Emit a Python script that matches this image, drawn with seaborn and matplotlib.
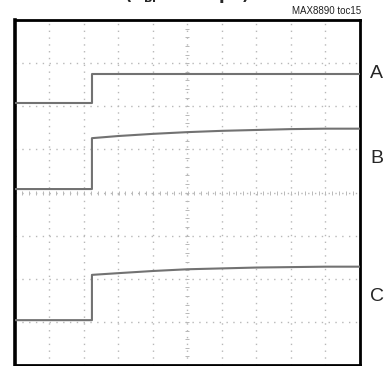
import numpy as np
import matplotlib
matplotlib.use("Agg")
import matplotlib.pyplot as plt
import seaborn as sns

# 示波器截图：横轴 10 格，纵轴 8 格（单位：格）
t_div = [0.0, 2.23, 2.23, 3.0, 4.0, 5.0, 6.0, 7.0, 8.0, 9.0, 10.0]
trace_a = [6.08, 6.08, 6.75, 6.75, 6.75, 6.75, 6.75, 6.75, 6.75, 6.75, 6.75]
trace_b = [4.08, 4.08, 5.26, 5.31, 5.36, 5.40, 5.43, 5.45, 5.47, 5.48, 5.48]
trace_c = [1.04, 1.04, 2.09, 2.13, 2.18, 2.22, 2.24, 2.26, 2.27, 2.28, 2.28]
labels = ["A", "B", "C"]
label_y = [6.75, 4.78, 1.58]

sns.set_theme(style="white")
plt.rcParams["font.family"] = ["Liberation Sans", "DejaVu Sans"]

fig = plt.figure(figsize=(3.88, 3.66), dpi=100)
ax = fig.add_axes([15 / 388, 1 / 366, 345 / 388, 345 / 366])
ax.set_xlim(0, 10)
ax.set_ylim(0, 8)

# 点状网格
grid_kw = dict(color="#b8b8b8", lw=1.0, linestyle=(0, (1, 3.9)), zorder=1)
for gx in range(1, 10):
    ax.axvline(gx, **grid_kw)
for gy in range(1, 8):
    ax.axhline(gy, **grid_kw)

# 中心十字刻度
minor = np.arange(0.2, 10, 0.2)
ax.plot(minor, np.full_like(minor, 4.0), ls="none", marker="|", ms=3.5, mew=0.7, color="#b8b8b8", zorder=1)
minor_y = np.arange(0.2, 8, 0.2)
ax.plot(np.full_like(minor_y, 5.0), minor_y, ls="none", marker="_", ms=3.5, mew=0.7, color="#b8b8b8", zorder=1)

for tr in (trace_a, trace_b, trace_c):
    sns.lineplot(x=t_div, y=tr, ax=ax, color="#727272", lw=1.5, sort=False,
                 estimator=None, zorder=3)

ax.set_xticks([])
ax.set_yticks([])
for sp in ax.spines.values():
    sp.set_visible(True)
    sp.set_color("black")
    sp.set_linewidth(2.0)
ax.spines["left"].set_linewidth(2.6)

for lab, ly in zip(labels, label_y):
    ax.text(10.48, ly, lab, fontsize=14, ha="center", va="center", clip_on=False)

fig.text(361 / 388, 1 - 11 / 366, "MAX8890 toc15", fontsize=7, ha="right", va="center",
         color="#222222")
fig.text(187 / 388, 1.0, r"$\mathbf{(C_{BP}\ =\ 0.1\mu F)}$", fontsize=11.5,
         ha="center", va="baseline")

fig.savefig("out.png", dpi=100)
